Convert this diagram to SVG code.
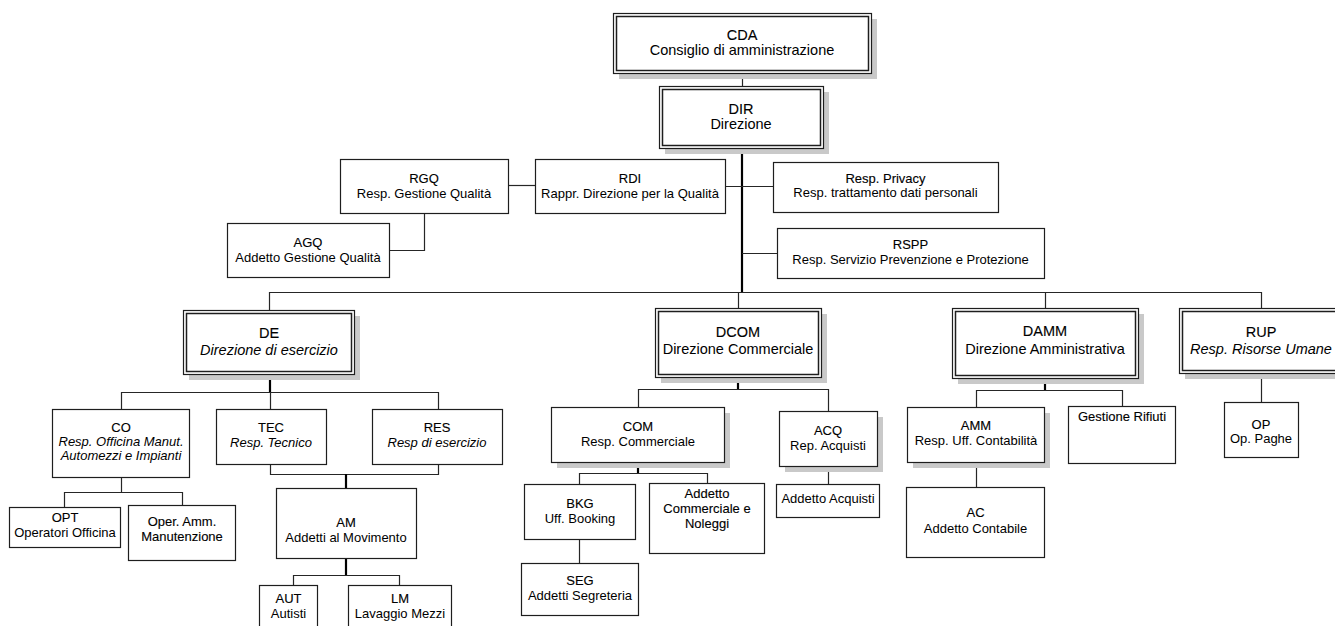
<svg xmlns="http://www.w3.org/2000/svg" width="1335" height="626" viewBox="0 0 1335 626">
<style>
.bg{fill:#fff}
.b{fill:#fff;stroke:#1e1e1e;stroke-width:1.2}
.bi{fill:none;stroke:#1e1e1e;stroke-width:1.5}
.sh{fill:#c9c9c9}
.t{font-family:"Liberation Sans",Arial,sans-serif;font-size:13px;text-anchor:middle;fill:#000}
.L{font-size:14.5px}
.h{stroke:#000;stroke-width:0.12}
.i{font-style:italic}
.c{fill:none;stroke:#262626;stroke-width:1.2}
.k{fill:none;stroke:#000;stroke-width:2.2}
</style>
<rect class="bg" x="0" y="0" width="1335" height="626"/>
<g id="connectors">
<path class="c" d="M742.5,73 V86"/>
<path class="k" d="M742,148 V292"/>
<path class="c" d="M508,185.5 H535"/>
<path class="c" d="M725,186.5 H773"/>
<path class="c" d="M742,253.5 H777"/>
<path class="c" d="M424.5,213 V250.5 H389"/>
<path class="c" d="M269.5,310 V292.5 H1261.5 V308"/>
<path class="c" d="M738.5,292 V308"/>
<path class="c" d="M1045.5,292 V308"/>
<path class="k" d="M270,374 V392"/>
<path class="c" d="M121.5,409 V392.5 H438.5 V409"/>
<path class="c" d="M270.5,392 V409"/>
<path class="c" d="M270.5,464 V474.5 H438.5 V464"/>
<path class="k" d="M346,474 V488"/>
<path class="c" d="M121.5,477 V492.5"/>
<path class="c" d="M64.5,507 V492.5 H182.5 V505"/>
<path class="k" d="M346,558 V575"/>
<path class="c" d="M293.5,585 V575.5 H399.5 V585"/>
<path class="k" d="M738,377 V389"/>
<path class="c" d="M638.5,407 V389.5 H828.5 V411"/>
<path class="k" d="M638,462 V473"/>
<path class="c" d="M579.5,484 V473.5 H707.5 V483"/>
<path class="c" d="M579.5,539 V563"/>
<path class="c" d="M828.5,466 V484"/>
<path class="k" d="M1045,378 V390"/>
<path class="c" d="M976.5,407 V390.5 H1122.5 V406"/>
<path class="c" d="M976.5,462 V487"/>
<path class="c" d="M1261.5,373 V402"/>
</g>
<g id="CDA">
<rect class="sh" x="619" y="19" width="258" height="60"/>
<rect class="b" x="613.5" y="13.5" width="258" height="60"/>
<rect class="bi" x="616.5" y="16.5" width="252" height="54"/>
<text class="t L h" x="742" y="40">CDA</text>
<text class="t L" x="742" y="55">Consiglio di amministrazione</text>
</g>
<g id="DIR">
<rect class="sh" x="665" y="92" width="164" height="62"/>
<rect class="b" x="659.5" y="86.5" width="164" height="62"/>
<rect class="bi" x="662.5" y="89.5" width="158" height="56"/>
<text class="t L h" x="741" y="114">DIR</text>
<text class="t L" x="741" y="129">Direzione</text>
</g>
<g id="RGQ">
<rect class="b" x="340.5" y="159.5" width="168" height="54"/>
<text class="t h" x="424" y="183">RGQ</text>
<text class="t" x="424" y="198">Resp. Gestione Qualità</text>
</g>
<g id="RDI">
<rect class="b" x="535.5" y="159.5" width="190" height="54"/>
<text class="t h" x="630" y="183">RDI</text>
<text class="t" x="630" y="198">Rappr. Direzione per la Qualità</text>
</g>
<g id="PRIV">
<rect class="b" x="773.5" y="162.5" width="225" height="50"/>
<text class="t h" x="885.5" y="183">Resp. Privacy</text>
<text class="t" x="885.5" y="197">Resp. trattamento dati personali</text>
</g>
<g id="AGQ">
<rect class="b" x="227.5" y="223.5" width="162" height="54"/>
<text class="t h" x="308" y="247">AGQ</text>
<text class="t" x="308" y="262">Addetto Gestione Qualità</text>
</g>
<g id="RSPP">
<rect class="b" x="777.5" y="228.5" width="267" height="50"/>
<text class="t h" x="910.5" y="249">RSPP</text>
<text class="t" x="910.5" y="264">Resp. Servizio Prevenzione e Protezione</text>
</g>
<g id="DE">
<rect class="sh" x="189" y="316" width="171" height="64"/>
<rect class="b" x="183.5" y="310.5" width="171" height="64"/>
<rect class="bi" x="186.5" y="313.5" width="165" height="58"/>
<text class="t L h" x="269" y="338">DE</text>
<text class="t L i" x="269" y="355">Direzione di esercizio</text>
</g>
<g id="DCOM">
<rect class="sh" x="661" y="314" width="166" height="69"/>
<rect class="b" x="655.5" y="308.5" width="166" height="69"/>
<rect class="bi" x="658.5" y="311.5" width="160" height="63"/>
<text class="t L h" x="738" y="337">DCOM</text>
<text class="t L" x="738" y="354">Direzione Commerciale</text>
</g>
<g id="DAMM">
<rect class="sh" x="958" y="314" width="186" height="70"/>
<rect class="b" x="952.5" y="308.5" width="186" height="70"/>
<rect class="bi" x="955.5" y="311.5" width="180" height="64"/>
<text class="t L h" x="1045" y="336">DAMM</text>
<text class="t L" x="1045" y="354">Direzione Amministrativa</text>
</g>
<g id="RUP">
<rect class="sh" x="1185" y="314" width="164" height="65"/>
<rect class="b" x="1179.5" y="308.5" width="164" height="65"/>
<rect class="bi" x="1182.5" y="311.5" width="158" height="59"/>
<text class="t L h" x="1261" y="337">RUP</text>
<text class="t L i" x="1261" y="354">Resp. Risorse Umane</text>
</g>
<g id="CO">
<rect class="b" x="52.5" y="409.5" width="137" height="68"/>
<text class="t h" x="121" y="432">CO</text>
<text class="t i" x="121" y="446">Resp. Officina Manut.</text>
<text class="t i" x="121" y="460">Automezzi e Impianti</text>
</g>
<g id="TEC">
<rect class="b" x="216.5" y="409.5" width="110" height="55"/>
<text class="t h" x="271" y="432">TEC</text>
<text class="t i" x="271" y="447">Resp. Tecnico</text>
</g>
<g id="RES">
<rect class="b" x="372.5" y="409.5" width="130" height="55"/>
<text class="t h" x="437" y="432">RES</text>
<text class="t i" x="437" y="447">Resp di esercizio</text>
</g>
<g id="COM">
<rect class="sh" x="557" y="413" width="173" height="55"/>
<rect class="b" x="551.5" y="407.5" width="173" height="55"/>
<text class="t h" x="638" y="431">COM</text>
<text class="t" x="638" y="446">Resp. Commerciale</text>
</g>
<g id="ACQ">
<rect class="sh" x="785" y="417" width="98" height="55"/>
<rect class="b" x="779.5" y="411.5" width="98" height="55"/>
<text class="t h" x="828" y="435">ACQ</text>
<text class="t" x="828" y="450">Rep. Acquisti</text>
</g>
<g id="AMM">
<rect class="sh" x="913" y="413" width="137" height="55"/>
<rect class="b" x="907.5" y="407.5" width="137" height="55"/>
<text class="t h" x="976" y="430">AMM</text>
<text class="t" x="976" y="445">Resp. Uff. Contabilità</text>
</g>
<g id="GR">
<rect class="b" x="1068.5" y="406.5" width="107" height="57"/>
<text class="t h" x="1122" y="421">Gestione Rifiuti</text>
</g>
<g id="OP">
<rect class="b" x="1224.5" y="402.5" width="74" height="55"/>
<text class="t h" x="1261" y="429">OP</text>
<text class="t" x="1261" y="443">Op. Paghe</text>
</g>
<g id="OPT">
<rect class="b" x="9.5" y="507.5" width="111" height="40"/>
<text class="t h" x="65" y="522">OPT</text>
<text class="t" x="65" y="537">Operatori Officina</text>
</g>
<g id="OAM">
<rect class="b" x="128.5" y="505.5" width="107" height="55"/>
<text class="t h" x="182" y="526">Oper. Amm.</text>
<text class="t h" x="182" y="541">Manutenzione</text>
</g>
<g id="AM">
<rect class="b" x="276.5" y="488.5" width="140" height="70"/>
<text class="t h" x="346" y="527">AM</text>
<text class="t" x="346" y="542">Addetti al Movimento</text>
</g>
<g id="AUT">
<rect class="b" x="259.5" y="585.5" width="58" height="50"/>
<text class="t h" x="288.5" y="603">AUT</text>
<text class="t" x="288.5" y="618">Autisti</text>
</g>
<g id="LM">
<rect class="b" x="348.5" y="585.5" width="103" height="50"/>
<text class="t h" x="400" y="603">LM</text>
<text class="t" x="400" y="618">Lavaggio Mezzi</text>
</g>
<g id="BKG">
<rect class="b" x="524.5" y="484.5" width="111" height="55"/>
<text class="t h" x="580" y="508">BKG</text>
<text class="t" x="580" y="523">Uff. Booking</text>
</g>
<g id="ACN">
<rect class="b" x="649.5" y="483.5" width="115" height="70"/>
<text class="t h" x="707" y="498">Addetto</text>
<text class="t h" x="707" y="513">Commerciale e</text>
<text class="t h" x="707" y="528">Noleggi</text>
</g>
<g id="SEG">
<rect class="b" x="521.5" y="563.5" width="117" height="52"/>
<text class="t h" x="580" y="585">SEG</text>
<text class="t" x="580" y="600">Addetti Segreteria</text>
</g>
<g id="AACQ">
<rect class="b" x="776.5" y="484.5" width="103" height="33"/>
<text class="t" x="828" y="503">Addetto Acquisti</text>
</g>
<g id="AC">
<rect class="b" x="906.5" y="487.5" width="138" height="70"/>
<text class="t h" x="975.5" y="517">AC</text>
<text class="t" x="975.5" y="533">Addetto Contabile</text>
</g>
</svg>
